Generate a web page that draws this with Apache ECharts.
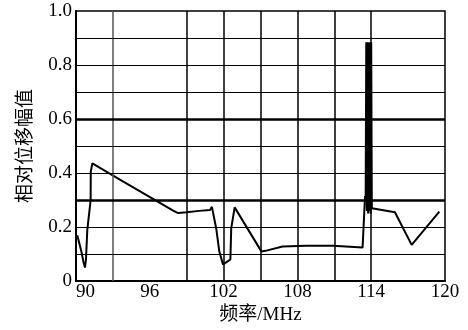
<!DOCTYPE html>
<html>
<head>
<meta charset="utf-8">
<script src="https://cdn.jsdelivr.net/npm/echarts@6/dist/echarts.min.js"></script>
<style>
	html, body { margin: 0; padding: 0; background: #fff; }
	#chart { width: 468px; height: 330px; }
</style>
</head>
<body>
<div id="chart"></div>
<script>
// frequency (MHz) and relative displacement amplitude
var freq = [
	90.1, 90.27, 90.46, 90.6, 90.73, 90.81, 90.92, 91.08, 91.19, 91.2, 91.33,
	93.57, 97.9, 98.3, 99.0, 100.0, 100.9, 101.05, 101.4, 101.65, 101.8, 101.95,
	102.36, 102.55, 102.62, 102.9, 105.07, 105.4, 106.8, 108.7, 110.9, 113.3, 113.45,
	113.5, 113.55, 113.6, 113.65, 113.7, 113.75, 113.8, 113.85, 113.9, 113.95, 114.0,
	114.05, 115.93, 116.07, 117.29, 119.54
]
var amp = [
	0.17, 0.14, 0.105, 0.072, 0.05, 0.08, 0.19, 0.195, 0.30, 0.405, 0.436,
	0.376, 0.261, 0.252, 0.255, 0.26, 0.263, 0.275, 0.195, 0.11, 0.086, 0.062,
	0.074, 0.08, 0.195, 0.273, 0.11, 0.112, 0.128, 0.131, 0.131, 0.124, 0.124,
	0.315, 0.30, 0.884, 0.26, 0.884, 0.25, 0.884, 0.26, 0.884, 0.25, 0.884,
	0.27, 0.255, 0.249, 0.134, 0.257
]
var xTicks = [90, 96, 102, 108, 114, 120]
var vLines = [93, 99, 102, 105, 108, 111, 114]
var hLines = [0.1, 0.2, 0.4, 0.5, 0.7, 0.8, 0.9]
var hThick = [0.3, 0.6]

var serif = "'Liberation Serif', 'Noto Sans CJK SC', serif"
var points = freq.map(function(f, i) { return [f, amp[i]] })

var chartOption = {
	animation: false,
	grid: {
		left: 76,
		right: 23,
		top: 11,
		bottom: 43,
		show: true,
		borderColor: "#000",
		borderWidth: 1.5
	},
	xAxis: {
		type: "value",
		min: xTicks[0],
		max: xTicks[xTicks.length - 1],
		interval: 6,
		name: "频率/MHz",
		nameLocation: "middle",
		nameGap: 22,
		nameTextStyle: { color: "#000", fontSize: 19, fontFamily: serif },
		axisLine: { lineStyle: { color: "#000", width: 2 } },
		axisTick: { show: false },
		splitLine: { show: false },
		axisLabel: {
			color: "#000",
			fontSize: 19,
			fontFamily: serif,
			margin: 1,
			alignMinLabel: "left"
		}
	},
	yAxis: {
		type: "value",
		min: 0,
		max: 1,
		interval: 0.2,
		name: "相对位移幅值",
		nameLocation: "middle",
		nameGap: 40,
		nameTextStyle: { color: "#000", fontSize: 19, fontFamily: serif },
		axisLine: { lineStyle: { color: "#000", width: 2 } },
		axisTick: { show: false },
		splitLine: { show: false },
		axisLabel: {
			color: "#000",
			fontSize: 19,
			fontFamily: serif,
			margin: 4,
			formatter: function(v) {
				return v === 0 ? "0" : v.toFixed(1)
			}
		}
	},
	series: [
		{
			type: "line",
			data: points,
			showSymbol: false,
			lineStyle: { color: "#000", width: 2 },
			markLine: {
				silent: true,
				symbol: "none",
				label: { show: false },
				data: vLines.map(function(v) {
					return {
						xAxis: v,
						lineStyle: { type: "solid", color: v === 93 ? "#555" : "#000", width: 1.5 }
					}
				}).concat(hLines.map(function(v) {
					return { yAxis: v, lineStyle: { type: "solid", color: "#000", width: 1.2 } }
				})).concat(hThick.map(function(v) {
					return { yAxis: v, lineStyle: { type: "solid", color: "#000", width: 2.5 } }
				}))
			},
			z: 3
		}
	]
}

var myChart = echarts.init(document.getElementById("chart"))
myChart.setOption(chartOption)
</script>
</body>
</html>
